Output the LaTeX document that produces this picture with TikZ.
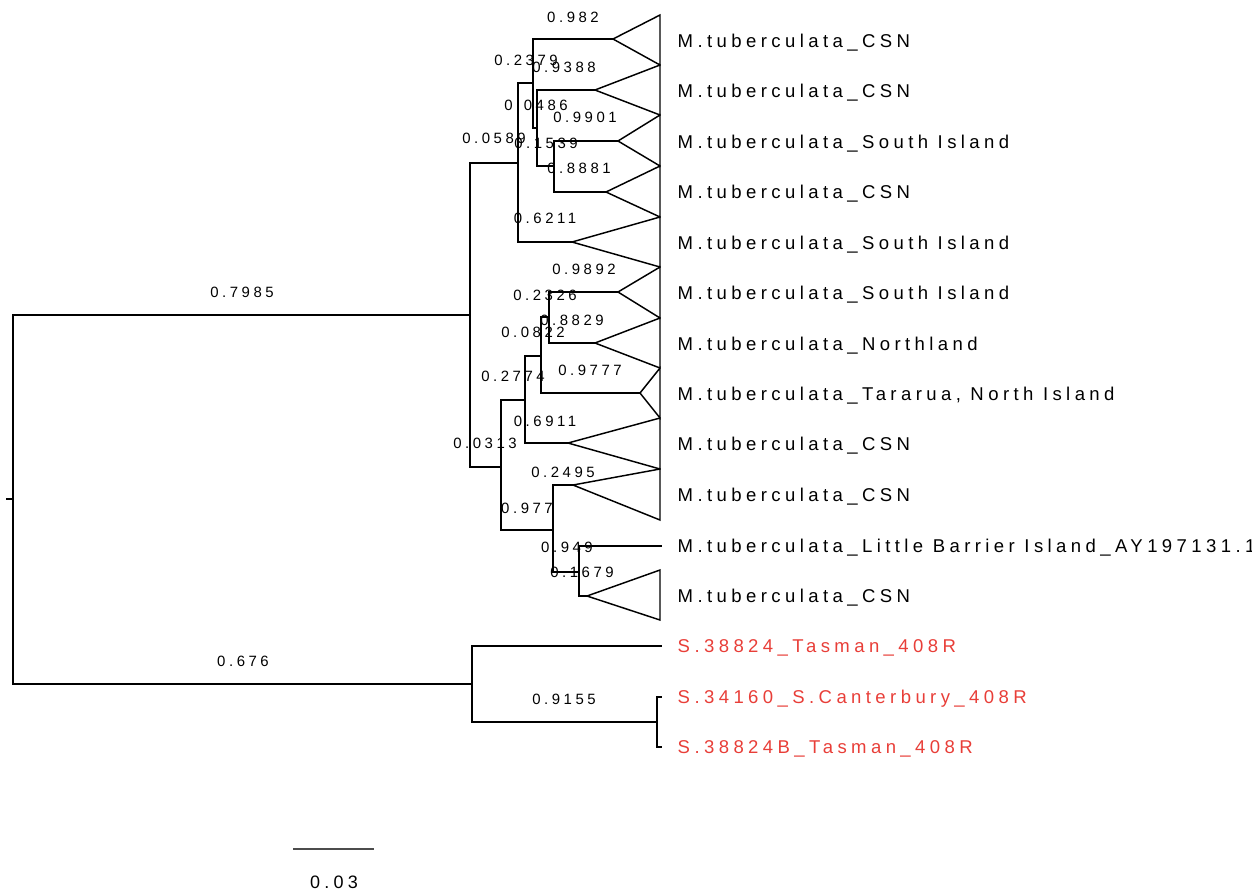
\documentclass[tikz,border=0pt]{standalone}
\usepackage{fontspec}
\usepackage{tikz}
\newfontfamily\treefont{Liberation Sans}[LetterSpace=23.8]
\definecolor{outgroup}{RGB}{232,62,56}

\begin{document}
\begin{tikzpicture}[x=0.75pt,y=-0.75pt,
  every node/.style={inner sep=0pt},
  leaf/.style={anchor=west,font=\treefont\fontsize{13.9}{16}\selectfont,
    inner xsep=11.25pt,text height=10pt,text depth=0pt},
  support/.style={font=\treefont\fontsize{11.2}{13}\selectfont},
  every path/.style={line width=1.1pt}]
\useasboundingbox (0,0) rectangle (1252,894);
% internal nodes
\coordinate (r0) at (6, 499);
\coordinate (r) at (13, 499);
\coordinate (A) at (470, 315);
\coordinate (B) at (472, 684);
\coordinate (C) at (518, 163);
\coordinate (D) at (501, 467);
\coordinate (E) at (533, 83);
\coordinate (F) at (537, 128);
\coordinate (G) at (554, 166);
\coordinate (H) at (525, 400);
\coordinate (I) at (541, 356);
\coordinate (L) at (549, 317);
\coordinate (J) at (553, 530);
\coordinate (K) at (579, 572);
\coordinate (M) at (657, 722);
% collapsed clades
\coordinate (t1) at (613, 39);
\coordinate (t2) at (595, 90);
\coordinate (t3) at (618, 141);
\coordinate (t4) at (606, 192);
\coordinate (t5) at (572, 242);
\coordinate (t6) at (618, 292);
\coordinate (t7) at (595, 343);
\coordinate (t8) at (640, 393);
\coordinate (t9) at (568, 443);
\coordinate (t10) at (573, 485);
\coordinate (t12) at (587, 596);
% tip labels
\node[leaf] (l1) at (662, 41) {M.tuberculata\_CSN};
\node[leaf] (l2) at (662, 91) {M.tuberculata\_CSN};
\node[leaf] (l3) at (662, 142) {M.tuberculata\_South Island};
\node[leaf] (l4) at (662, 192) {M.tuberculata\_CSN};
\node[leaf] (l5) at (662, 243) {M.tuberculata\_South Island};
\node[leaf] (l6) at (662, 293) {M.tuberculata\_South Island};
\node[leaf] (l7) at (662, 344) {M.tuberculata\_Northland};
\node[leaf] (l8) at (662, 394) {M.tuberculata\_Tararua, North Island};
\node[leaf] (l9) at (662, 444) {M.tuberculata\_CSN};
\node[leaf] (l10) at (662, 495) {M.tuberculata\_CSN};
\node[leaf] (l11) at (662, 546) {M.tuberculata\_Little Barrier Island\_AY197131.1};
\node[leaf] (l12) at (662, 596) {M.tuberculata\_CSN};
\node[leaf,text=outgroup] (l13) at (662, 646) {S.38824\_Tasman\_408R};
\node[leaf,text=outgroup] (l14) at (662, 697) {S.34160\_S.Canterbury\_408R};
\node[leaf,text=outgroup] (l15) at (662, 747) {S.38824B\_Tasman\_408R};
% branches
\draw (r0) -- (r);
\draw (r) |- (A);
\draw (r) |- (B);
\draw (A) |- (C);
\draw (A) |- (D);
\draw (C) |- (E);
\draw (C) |- (t5);
\draw (E) |- (t1);
\draw (E) |- (F);
\draw (F) |- (t2);
\draw (F) |- (G);
\draw (G) |- (t3);
\draw (G) |- (t4);
\draw (D) |- (H);
\draw (D) |- (J);
\draw (H) |- (I);
\draw (H) |- (t9);
\draw (I) |- (L);
\draw (I) |- (t8);
\draw (L) |- (t6);
\draw (L) |- (t7);
\draw (J) |- (t10);
\draw (J) |- (K);
\draw (K) |- (l11.west);
\draw (K) |- (t12);
\draw (B) |- (l13.west);
\draw (B) |- (M);
\draw (M) |- (l14.west);
\draw (M) |- (l15.west);
% triangles
\draw (t1) -- (660, 15) -- (660, 65) -- cycle;
\draw (t2) -- (660, 65) -- (660, 115) -- cycle;
\draw (t3) -- (660, 115) -- (660, 166) -- cycle;
\draw (t4) -- (660, 166) -- (660, 217) -- cycle;
\draw (t5) -- (660, 217) -- (660, 267) -- cycle;
\draw (t6) -- (660, 267) -- (660, 318) -- cycle;
\draw (t7) -- (660, 318) -- (660, 368) -- cycle;
\draw (t8) -- (660, 368) -- (660, 418) -- cycle;
\draw (t9) -- (660, 418) -- (660, 469) -- cycle;
\draw (t10) -- (660, 469) -- (660, 520) -- cycle;
\draw (t12) -- (660, 570) -- (660, 620) -- cycle;
% support values
\node[support] (s1) at (573, 17) {0.982};
\node[support] (s2) at (526, 60) {0.2379};
\node[support] (s3) at (564, 67) {0.9388};
\node[support] (s4) at (536, 105) {0.0486};
\node[support] (s5) at (585, 117) {0.9901};
\node[support] (s6) at (494, 138) {0.0589};
\node[support] (s7) at (546, 143) {0.1539};
\node[support] (s8) at (579, 168) {0.8881};
\node[support] (s9) at (545, 218) {0.6211};
\node[support] (s10) at (584, 269) {0.9892};
\node[support] (s11) at (545, 295) {0.2326};
\node[support] (s12) at (572, 320) {0.8829};
\node[support] (s13) at (533, 332) {0.0822};
\node[support] (s14) at (590, 370) {0.9777};
\node[support] (s15) at (513, 376) {0.2774};
\node[support] (s16) at (545, 421) {0.6911};
\node[support] (s17) at (485, 443) {0.0313};
\node[support] (s18) at (563, 472) {0.2495};
\node[support] (s19) at (527, 508) {0.977};
\node[support] (s20) at (567, 547) {0.949};
\node[support] (s21) at (582, 572) {0.1679};
\node[support] (s22) at (242, 292) {0.7985};
\node[support] (s23) at (243, 661) {0.676};
\node[support] (s24) at (564, 699) {0.9155};
% scale bar
\coordinate (sb1) at (293, 849);
\coordinate (sb2) at (374, 849);
\draw[draw=black!70,line width=1.4pt] (sb1) -- (sb2);
\node[font=\treefont\fontsize{13.5}{16}\selectfont] (sbl) at (334, 882) {0.03};
\end{tikzpicture}
\end{document}
